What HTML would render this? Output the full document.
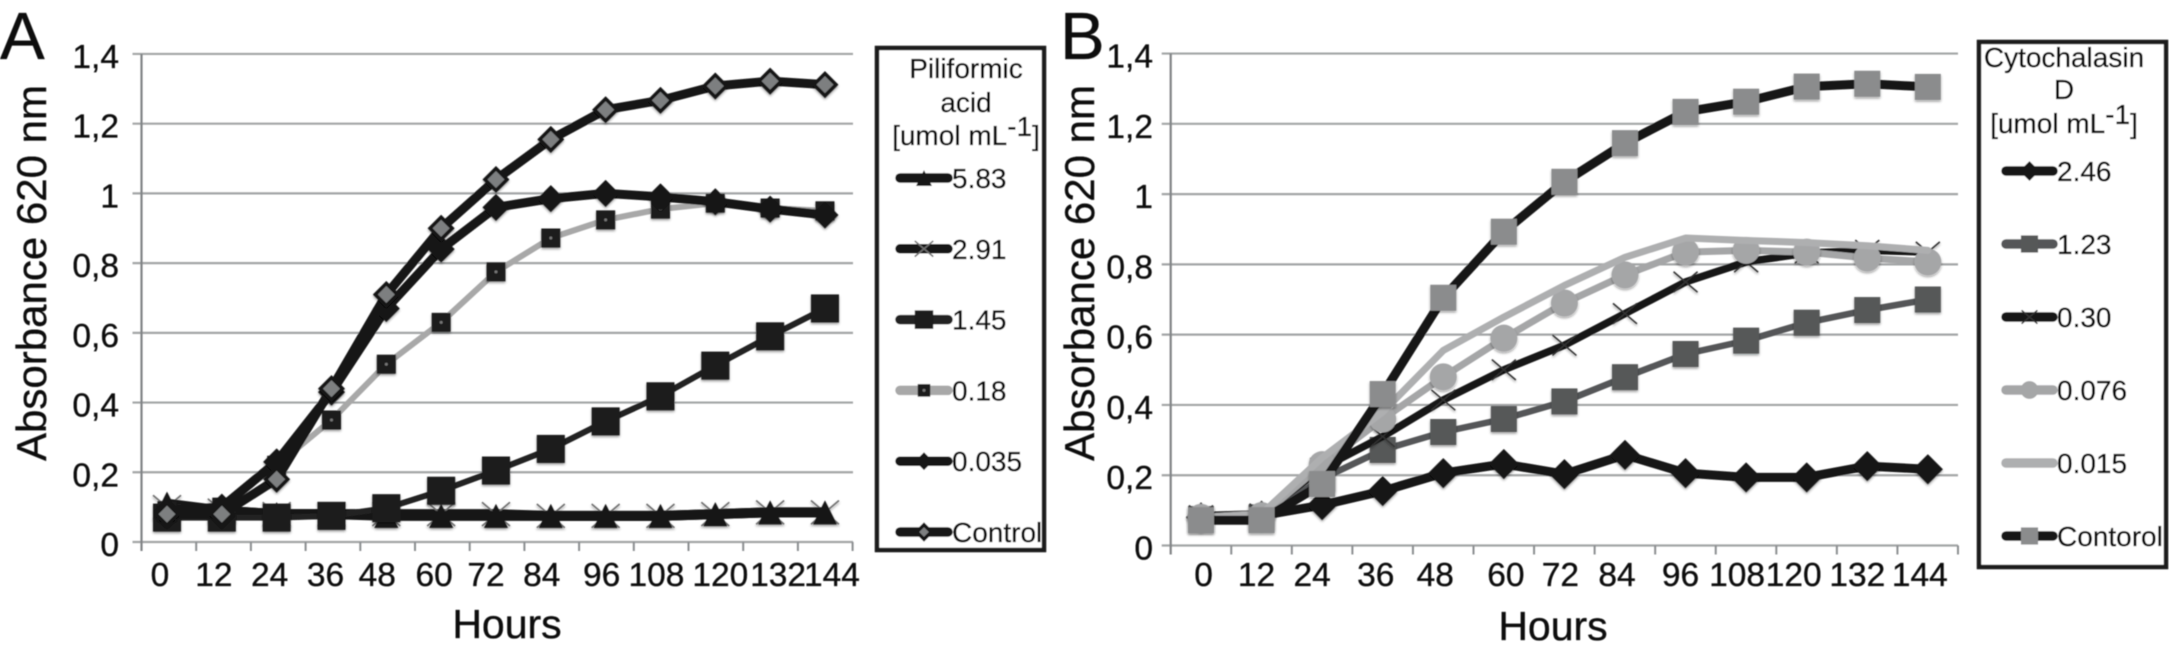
<!DOCTYPE html>
<html lang="en">
<head>
<meta charset="utf-8">
<title>Absorbance growth curves</title>
<style>
html,body{margin:0;padding:0;background:#fff;}
body{width:2169px;height:650px;overflow:hidden;}
svg{display:block;}
text{font-family:"Liberation Sans",sans-serif;fill:#111;stroke:#111;stroke-width:0.35px;}
</style>
</head>
<body>
<svg id="figure" xmlns="http://www.w3.org/2000/svg" width="2169" height="650" viewBox="0 0 2169 650">
  <defs>
    <filter id="soft" x="-2%" y="-2%" width="104%" height="104%"><feGaussianBlur stdDeviation="0.45"/></filter>
    <filter id="shadow" x="-30%" y="-30%" width="160%" height="160%"><feDropShadow dx="0" dy="1.6" stdDeviation="1.2" flood-color="#000" flood-opacity="0.4"/></filter>
  </defs>
  <g id="root" filter="url(#soft)"></g>
</svg>
<script>
// ---- shared axis data ----
const hourLabels = ['0','12','24','36','48','60','72','84','96','108','120','132','144'];
const yTickValues = [0, 0.2, 0.4, 0.6, 0.8, 1, 1.2, 1.4];
const yTickLabels = ['0','0,2','0,4','0,6','0,8','1','1,2','1,4'];

// ---- panel A series (absorbance read per time point) ----
const a583 = [0.11,0.09,0.08,0.08,0.075,0.075,0.075,0.075,0.075,0.075,0.08,0.085,0.085];
const a291 = [0.10,0.09,0.08,0.08,0.08,0.08,0.08,0.075,0.075,0.075,0.08,0.085,0.085];
const a145 = [0.07,0.07,0.07,0.075,0.097,0.147,0.205,0.267,0.346,0.418,0.506,0.59,0.67];
const a018 = [0.09,0.10,0.22,0.35,0.51,0.63,0.775,0.872,0.924,0.955,0.972,0.958,0.95];
const a0035 = [0.09,0.10,0.23,0.43,0.67,0.84,0.96,0.985,1.0,0.99,0.976,0.955,0.938];
const aControl = [0.08,0.08,0.18,0.44,0.71,0.90,1.04,1.155,1.24,1.267,1.308,1.322,1.312];

// ---- panel B series ----
const b246 = [0.08,0.085,0.115,0.155,0.206,0.232,0.203,0.258,0.206,0.194,0.194,0.226,0.217];
const b123 = [0.075,0.08,0.19,0.272,0.323,0.36,0.41,0.479,0.545,0.583,0.634,0.67,0.70];
const b030 = [0.085,0.09,0.22,0.31,0.414,0.50,0.57,0.66,0.75,0.807,0.832,0.84,0.835];
const b0076 = [0.08,0.085,0.23,0.36,0.48,0.59,0.69,0.77,0.835,0.84,0.835,0.818,0.807];
const b0015 = [0.08,0.09,0.25,0.38,0.555,0.65,0.74,0.82,0.875,0.868,0.862,0.853,0.84];
const bControl = [0.072,0.072,0.175,0.431,0.705,0.893,1.035,1.145,1.234,1.263,1.306,1.314,1.305];

// ---- series labels ----
const aLabels = ['5.83','2.91','1.45','0.18','0.035','Control'];
const bLabels = ['2.46','1.23','0.30','0.076','0.015','Contorol'];

const NS = 'http://www.w3.org/2000/svg';

function node(parent, tag, name, props) {
  const el = document.createElementNS(NS, tag);
  
  
  for (const k in props) { el.setAttribute(k, props[k]); }
  parent.appendChild(el);
  return el;
}

function label(parent, name, str, x, y, size, anchor, extra) {
  const t = node(parent, 'text', name, Object.assign({x: x, y: y, 'font-size': size, 'text-anchor': anchor || 'start'}, extra || {}));
  t.textContent = str;
  return t;
}

function marker(parent, name, m, cx, cy) {
  if (!m || m.type === 'none') { return; }
  const s = m.size;
  const common = {fill: m.fill, stroke: m.stroke || 'none', 'stroke-width': m.sw || 0};
  if (m.type === 'square') {
    node(parent, 'rect', name, Object.assign({x: cx - s, y: cy - s, width: 2 * s, height: 2 * s}, common));
    if (m.dot) {
      node(parent, 'circle', name + '-center', {cx: cx, cy: cy, r: 1.5, fill: m.dot});
    }
  } else if (m.type === 'diamond') {
    node(parent, 'polygon', name, Object.assign({points: [cx, cy - s, cx + s, cy, cx, cy + s, cx - s, cy].join(' ')}, common));
  } else if (m.type === 'circle') {
    node(parent, 'circle', name, Object.assign({cx: cx, cy: cy, r: s}, common));
  } else if (m.type === 'triangle') {
    node(parent, 'polygon', name, Object.assign({points: [cx, cy - s, cx + s, cy + s, cx - s, cy + s].join(' ')}, common));
  } else if (m.type === 'star') {
    const d = 'M' + (cx - s) + ' ' + (cy - s * 0.85) + 'L' + (cx + s) + ' ' + (cy + s * 0.85) +
              'M' + (cx + s) + ' ' + (cy - s * 0.85) + 'L' + (cx - s) + ' ' + (cy + s * 0.85);
    node(parent, 'path', name, {d: d, fill: 'none', stroke: m.stroke, 'stroke-width': m.sw});
  }
}

function drawPanel(p) {
  const g = node(document.getElementById('root'), 'g', p.id, {});
  const xPos = i => p.x0 + p.dx * i;
  const yPos = v => p.y0 - p.k * v;
  const top = yPos(yTickValues[yTickValues.length - 1]);
  const bottom = yPos(0);

  label(g, p.id + '-letter', p.letter, p.letterX, 59, 67);

  yTickValues.forEach((v, i) => {
    node(g, 'line', 'gridline-' + yTickLabels[i], {x1: p.axisX - 9, x2: p.axisRight, y1: yPos(v), y2: yPos(v), stroke: '#a3a5a6', 'stroke-width': 2.2});
    label(g, 'y-tick-label-' + yTickLabels[i], yTickLabels[i], p.yLabelRight, yPos(v) + 14, 33.5, 'end');
  });
  node(g, 'line', 'y-axis-line', {x1: p.axisX, x2: p.axisX, y1: top, y2: bottom + 9, stroke: '#808385', 'stroke-width': 2.2});
  hourLabels.forEach((h, i) => {
    const tx = p.axisX + (i + 1) * p.tickStep;
    node(g, 'line', 'x-tick-' + h, {x1: tx, x2: tx, y1: bottom, y2: bottom + 9, stroke: '#8b8e90', 'stroke-width': 2});
    label(g, 'x-tick-label-' + h, h, xPos(i) + p.labelNudge[i], 586, 33.5, 'middle');
  });
  label(g, 'x-axis-title', 'Hours', p.hoursX, p.hoursY, 41, 'middle');
  label(g, 'y-axis-title', 'Absorbance 620 nm', 0, 0, 42, 'middle', {transform: 'translate(' + p.yTitleX + ' 273) rotate(-90)'});

  const order = p.drawOrder;
  order.forEach(idx => {
    const values = p.values[idx];
    const st = p.styles[idx];
    const sg = node(g, 'g', 'series-' + p.labels[idx], {});
    const pts = values.map((v, i) => xPos(i) + ',' + yPos(v)).join(' ');
    node(sg, 'polyline', 'line-' + p.labels[idx], {points: pts, fill: 'none', stroke: st.line, 'stroke-width': st.width, 'stroke-linejoin': 'round', 'stroke-linecap': 'round'});
    const mg = node(sg, 'g', 'markers-' + p.labels[idx], {filter: 'url(#shadow)'});
    values.forEach((v, i) => {
      marker(mg, 'point-' + p.labels[idx] + '-' + hourLabels[i], st.marker, xPos(i), yPos(v));
    });
  });

  const lg = node(g, 'g', p.id + '-legend', {});
  node(lg, 'rect', 'legend-box', {x: p.boxX, y: p.boxY, width: p.boxW, height: p.boxH, fill: '#fff', stroke: '#1c1c1c', 'stroke-width': 4.5});
  p.titleLines.forEach((line, i) => {
    label(lg, 'legend-title-line', line, p.titleX, p.titleY[i], 28, 'middle');
  });
  const unit = node(lg, 'text', 'legend-unit', {x: p.titleX, y: p.titleY[p.titleY.length - 1], 'font-size': 28, 'text-anchor': 'middle'});
  const t1 = document.createElementNS(NS, 'tspan'); t1.textContent = '[umol mL'; unit.appendChild(t1);
  const t2 = document.createElementNS(NS, 'tspan'); t2.setAttribute('dy', '-9'); t2.textContent = '-1'; unit.appendChild(t2);
  const t3 = document.createElementNS(NS, 'tspan'); t3.setAttribute('dy', '9'); t3.textContent = ']'; unit.appendChild(t3);

  p.labels.forEach((name, i) => {
    const ly = p.legendY + p.legendStep * i;
    const st = p.styles[i];
    const e = node(lg, 'g', 'legend-entry-' + name, {});
    node(e, 'line', 'legend-line', {x1: p.legendX1, x2: p.legendX2, y1: ly, y2: ly, stroke: st.line, 'stroke-width': st.legendWidth || 9.5, 'stroke-linecap': 'round'});
    if (st.marker) {
      marker(e, 'legend-marker', Object.assign({}, st.marker, {size: st.marker.size * 0.66}), (p.legendX1 + p.legendX2) / 2, ly);
    }
    label(e, 'legend-label', name, p.legendX2 + 4, ly + 10, 28);
  });
}

const diamondBlack = {type: 'diamond', size: 13.5, fill: '#161616'};
const diamondGrey = {type: 'diamond', size: 11, fill: '#7d7f80', stroke: '#161616', sw: 3.5};

drawPanel({
  id: 'panel-a', letter: 'A', letterX: 0,
  x0: 167, dx: 54.83, y0: 542, k: 348.6,
  axisX: 141.5, axisRight: 853, tickStep: 54.7, yLabelRight: 119,
  labelNudge: [-7,-8,-7,-6,-9,-7,-10,-9,-4,-4,5,8,7],
  hoursX: 507, hoursY: 638, yTitleX: 46,
  labels: aLabels,
  values: [a583, a291, a145, a018, a0035, aControl],
  drawOrder: [1, 0, 2, 3, 4, 5],
  styles: [
    {line: '#161616', width: 10, marker: {type: 'triangle', size: 12, fill: '#161616'}},
    {line: '#161616', width: 10, marker: {type: 'star', size: 14, stroke: '#6f6f6f', sw: 1.6}},
    {line: '#222222', width: 6, legendWidth: 9.5, marker: {type: 'square', size: 14, fill: '#1a1a1a'}},
    {line: '#a8a8a8', width: 6, marker: {type: 'square', size: 9.5, fill: '#1a1a1a', dot: '#777'}},
    {line: '#161616', width: 9, marker: diamondBlack},
    {line: '#161616', width: 9, marker: diamondGrey}
  ],
  boxX: 877, boxY: 48, boxW: 167, boxH: 502,
  titleLines: ['Piliformic', 'acid'], titleX: 966, titleY: [78, 112, 145],
  legendX1: 900, legendX2: 948, legendY: 178, legendStep: 70.8
});

drawPanel({
  id: 'panel-b', letter: 'B', letterX: 1060,
  x0: 1201, dx: 60.57, y0: 545.5, k: 351.4,
  axisX: 1170.7, axisRight: 1958, tickStep: 60.56, yLabelRight: 1153,
  labelNudge: [2.6,-5,-10,-7,-8,2,-4,-8,-5,-9,-13,-10,-8],
  hoursX: 1553, hoursY: 640, yTitleX: 1094,
  labels: bLabels,
  values: [b246, b123, b030, b0076, b0015, bControl],
  drawOrder: [0, 1, 2, 3, 4, 5],
  styles: [
    {line: '#161616', width: 9, marker: {type: 'diamond', size: 15, fill: '#161616'}},
    {line: '#555759', width: 6.5, marker: {type: 'square', size: 13, fill: '#565859'}},
    {line: '#161616', width: 7.5, marker: {type: 'star', size: 12, stroke: '#333', sw: 1.5}},
    {line: '#a5a6a7', width: 7, marker: {type: 'circle', size: 13.5, fill: '#a5a6a7'}},
    {line: '#aeafb0', width: 7, marker: null},
    {line: '#161616', width: 9, marker: {type: 'square', size: 13, fill: '#8b8c8d'}}
  ],
  boxX: 1979, boxY: 42, boxW: 187, boxH: 525,
  titleLines: ['Cytochalasin', 'D'], titleX: 2064, titleY: [67, 99, 133],
  legendX1: 2006, legendX2: 2053, legendY: 171, legendStep: 73
});
</script>
</body>
</html>
